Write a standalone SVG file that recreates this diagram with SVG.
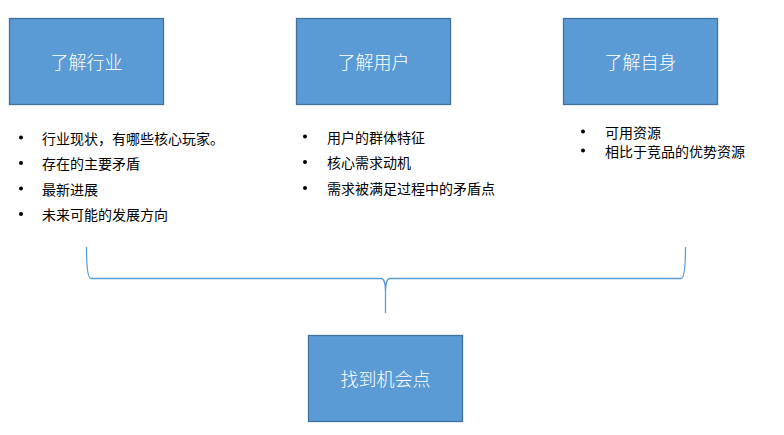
<svg xmlns="http://www.w3.org/2000/svg" width="784" height="435" viewBox="0 0 784 435">
<style>
.box{fill:#5B9BD5;stroke:#41719C;stroke-width:1.3}
.bt{font-family:"Noto Sans CJK SC","Microsoft YaHei",sans-serif;font-size:18px;font-weight:300;fill:#FFFFFF;text-anchor:middle;dominant-baseline:central}
.li{font-family:"Noto Sans CJK SC",sans-serif;font-size:14px;fill:#000000;dominant-baseline:central}
.dot{fill:#000000}
.brace{fill:none;stroke:#5B9BD5;stroke-width:1.3}
</style>
<rect width="784" height="435" fill="#FFFFFF"/>
<g id="node-industry">
<rect class="box" x="9.5" y="18.5" width="154" height="86"/>
<text class="bt" x="86.5" y="61">了解行业</text>
</g>
<g id="node-user">
<rect class="box" x="296.5" y="18.5" width="154" height="86"/>
<text class="bt" x="373.5" y="61">了解用户</text>
</g>
<g id="node-self">
<rect class="box" x="563.5" y="18.5" width="154" height="86"/>
<text class="bt" x="640.5" y="61">了解自身</text>
</g>
<g id="node-opportunity">
<rect class="box" x="308.5" y="335.5" width="154" height="86"/>
<text class="bt" x="385.5" y="378">找到机会点</text>
</g>
<g id="list-industry">
<circle class="dot" cx="21" cy="137.5" r="2"/>
<text class="li" x="42" y="137.5">行业现状，有哪些核心玩家。</text>
<circle class="dot" cx="21" cy="163" r="2"/>
<text class="li" x="42" y="163">存在的主要矛盾</text>
<circle class="dot" cx="21" cy="188.5" r="2"/>
<text class="li" x="42" y="188.5">最新进展</text>
<circle class="dot" cx="21" cy="214" r="2"/>
<text class="li" x="42" y="214">未来可能的发展方向</text>
</g>
<g id="list-user">
<circle class="dot" cx="305" cy="136.5" r="2"/>
<text class="li" x="327" y="136.5">用户的群体特征</text>
<circle class="dot" cx="305" cy="162" r="2"/>
<text class="li" x="327" y="162">核心需求动机</text>
<circle class="dot" cx="305" cy="188" r="2"/>
<text class="li" x="327" y="188">需求被满足过程中的矛盾点</text>
</g>
<g id="list-self">
<circle class="dot" cx="583" cy="131.5" r="2"/>
<text class="li" x="605" y="131.5">可用资源</text>
<circle class="dot" cx="583" cy="150.5" r="2"/>
<text class="li" x="605" y="150.5">相比于竞品的优势资源</text>
</g>
<g id="connectors">
<path class="brace" d="M86.5,247 C86.5,266 87.5,278.5 91,278.5 L381,278.5 C384.5,278.5 385.5,284 385.5,292 L385.5,313 M385.5,292 C385.5,284 386.5,278.5 390,278.5 L681,278.5 C684.5,278.5 685.5,266 685.5,247"/>
</g>
</svg>
